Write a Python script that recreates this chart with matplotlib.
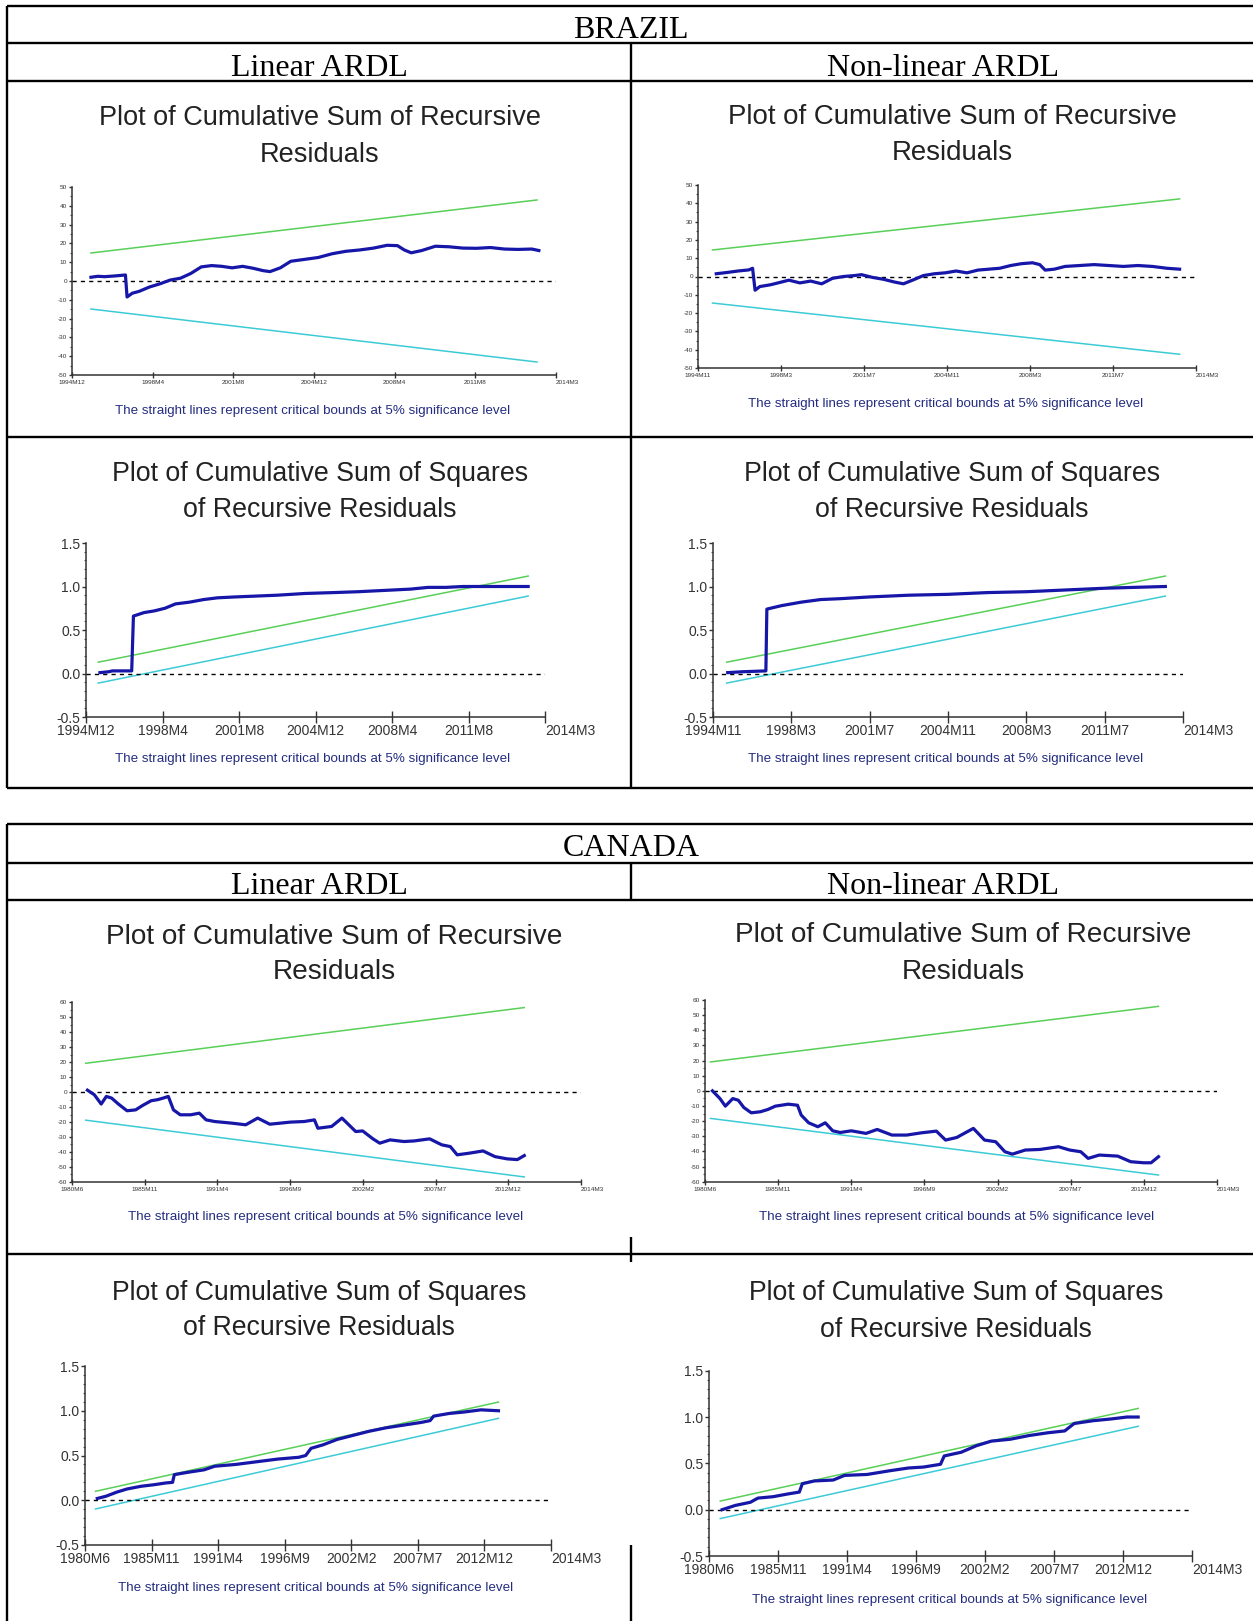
import numpy as np
import matplotlib.pyplot as plt
from matplotlib.ticker import MultipleLocator, FormatStrFormatter

plt.rcParams["font.family"] = "Liberation Sans"
plt.rcParams["axes.unicode_minus"] = False

W, H = 1253, 1621  # output size in pixels

# ---------------- data (x = position in the recursive sample, months) ----------------
brazil_lin_dates = ["1994M12", "1998M4", "2001M8", "2004M12", "2008M4", "2011M8", "2014M3"]
brazil_nl_dates = ["1994M11", "1998M3", "2001M7", "2004M11", "2008M3", "2011M7", "2014M3"]
canada_dates = ["1980M6", "1985M11", "1991M4", "1996M9", "2002M2", "2007M7", "2012M12", "2014M3"]

# Brazil, linear ARDL, CUSUM
br_lin_cusum_x = [9.4, 12.8, 16.2, 21.4, 26.5, 27.3, 29.9, 33.3, 38.4, 43.6, 48.7, 53.8, 58.9, 64.1,
                  69.2, 74.3, 79.4, 84.6, 89.7, 94.8, 98.2, 103.3, 108.5, 115.3, 122.1, 129.0, 135.8,
                  142.6, 149.5, 156.3, 161.4, 164.8, 168.2, 173.4, 180.2, 187.0, 193.8, 200.7, 207.5,
                  214.4, 221.2, 228.0, 231.5]
br_lin_cusum_y = [2.0, 2.5, 2.3, 2.7, 3.2, -8.5, -6.5, -5.5, -3.2, -1.5, 0.5, 1.5, 4.0, 7.5, 8.2,
                  7.8, 7.0, 7.8, 6.8, 5.5, 5.0, 7.0, 10.5, 11.5, 12.5, 14.5, 15.8, 16.5, 17.5, 19.0,
                  18.8, 16.5, 15.0, 16.2, 18.5, 18.2, 17.5, 17.4, 17.8, 17.0, 16.8, 17.0, 16.2]
br_lin_cusum_bx = [9.4, 230.6]
br_lin_cusum_up = [14.9, 43.1]
br_lin_cusum_lo = [-14.9, -43.1]

# Brazil, non-linear ARDL, CUSUM
br_nl_cusum_x = [8.8, 14.0, 19.3, 24.5, 26.3, 27.5, 29.8, 35.0, 40.3, 43.8, 49.1, 54.3, 59.6, 64.8,
                 70.1, 75.3, 78.8, 84.1, 89.3, 94.6, 99.0, 103.4, 108.6, 113.9, 119.1, 124.4, 129.6,
                 134.9, 140.1, 145.4, 150.7, 155.9, 161.2, 164.7, 167.3, 171.7, 176.9, 183.9, 190.9,
                 198.0, 205.0, 212.0, 219.0, 226.0, 232.1]
br_nl_cusum_y = [1.5, 2.2, 3.0, 3.6, 4.5, -7.5, -5.5, -4.5, -3.0, -2.0, -3.5, -2.5, -4.0, -1.0, 0.0,
                 0.5, 1.0, -0.5, -1.5, -3.0, -4.0, -2.0, 0.5, 1.5, 2.0, 3.0, 2.0, 3.5, 4.0, 4.5, 6.0,
                 7.0, 7.5, 6.5, 3.5, 4.0, 5.5, 6.0, 6.5, 6.0, 5.5, 6.0, 5.5, 4.5, 4.0]
br_nl_cusum_bx = [7.0, 232.1]
br_nl_cusum_up = [14.5, 42.4]
br_nl_cusum_lo = [-14.5, -42.5]

# Brazil, linear ARDL, CUSUM of squares
br_lin_sq_x = [7.3, 11.9, 13.8, 23.9, 24.8, 30.3, 35.8, 41.3, 46.8, 54.1, 61.5, 68.8, 78.0, 89.0,
               100.0, 114.7, 129.4, 142.2, 151.4, 160.6, 169.7, 178.9, 188.1, 197.2, 206.4, 215.6, 231.2]
br_lin_sq_y = [0.01, 0.02, 0.03, 0.03, 0.66, 0.70, 0.72, 0.75, 0.80, 0.82, 0.85, 0.87, 0.88, 0.89,
               0.90, 0.92, 0.93, 0.94, 0.95, 0.96, 0.97, 0.99, 0.99, 1.00, 1.00, 1.00, 1.00]
br_lin_sq_bx = [6.4, 231.2]
br_lin_sq_up = [0.13, 1.12]
br_lin_sq_lo = [-0.11, 0.89]

# Brazil, non-linear ARDL, CUSUM of squares
br_nl_sq_x = [7.5, 15.0, 27.0, 27.5, 35.0, 45.0, 55.0, 65.0, 80.0, 100.0, 120.0, 140.0, 160.0,
              180.0, 200.0, 215.0, 231.0]
br_nl_sq_y = [0.01, 0.02, 0.03, 0.74, 0.78, 0.82, 0.85, 0.86, 0.88, 0.90, 0.91, 0.93, 0.94, 0.96,
              0.98, 0.99, 1.00]
br_nl_sq_bx = [7.0, 231.0]
br_nl_sq_up = [0.13, 1.12]
br_nl_sq_lo = [-0.11, 0.89]

# Canada, linear ARDL, CUSUM
ca_lin_cusum_x = [13.8, 20.0, 26.1, 30.7, 35.4, 41.5, 49.2, 56.9, 63.0, 70.7, 76.9, 81.5, 86.1, 90.7,
                  96.8, 106.1, 113.8, 119.9, 127.6, 143.0, 155.3, 166.0, 176.8, 195.2, 207.5, 216.7,
                  219.8, 232.1, 241.3, 253.6, 259.8, 269.0, 275.1, 284.4, 296.7, 305.9, 319.7, 330.5,
                  338.2, 344.3, 355.1, 367.4, 378.1, 388.9, 398.1, 404.3]
ca_lin_cusum_y = [1.3, -1.8, -8.0, -2.9, -4.0, -8.0, -12.5, -11.9, -9.0, -5.8, -5.0, -4.0, -2.9,
                  -11.9, -15.2, -15.2, -14.1, -18.6, -19.7, -20.8, -21.9, -17.4, -21.5, -20.1, -19.7,
                  -18.6, -24.2, -23.0, -17.4, -26.4, -26.0, -31.3, -34.2, -32.0, -33.1, -32.7, -31.3,
                  -35.3, -36.5, -42.0, -40.9, -39.4, -43.2, -44.7, -45.2, -42.5]
ca_lin_cusum_bx = [12.3, 404.3]
ca_lin_cusum_up = [19.3, 56.6]
ca_lin_cusum_lo = [-18.8, -56.8]

# Canada, non-linear ARDL, CUSUM
ca_nl_cusum_x = [6.6, 13.2, 18.1, 24.7, 29.6, 34.5, 41.1, 49.3, 55.9, 62.5, 74.0, 82.2, 85.5, 92.1,
                 100.3, 106.9, 113.5, 120.1, 130.0, 143.1, 153.0, 166.1, 179.3, 192.5, 205.6, 213.8,
                 223.7, 230.3, 238.5, 248.4, 258.3, 266.5, 273.1, 284.6, 297.7, 314.2, 324.1, 333.9,
                 340.5, 350.4, 366.8, 378.3, 389.9, 396.4, 403.0]
ca_nl_cusum_y = [0.0, -5.0, -10.1, -5.1, -6.2, -11.0, -14.5, -13.8, -12.3, -10.1, -8.8, -9.5, -16.0,
                 -21.1, -23.7, -21.1, -26.4, -27.5, -26.4, -28.1, -25.5, -29.2, -29.2, -27.7, -26.6,
                 -32.5, -30.8, -28.1, -24.8, -32.5, -33.6, -40.2, -41.8, -39.1, -38.7, -36.9, -39.1,
                 -40.2, -44.6, -42.4, -43.1, -46.8, -47.5, -47.5, -43.5]
ca_nl_cusum_bx = [4.9, 403.0]
ca_nl_cusum_up = [19.1, 55.8]
ca_nl_cusum_lo = [-18.2, -55.6]

# Canada, linear ARDL, CUSUM of squares
ca_lin_sq_x = [12.0, 20.5, 30.8, 41.1, 54.7, 68.4, 78.7, 85.5, 87.2, 99.2, 116.3, 126.6, 147.1,
               167.6, 188.2, 208.7, 215.5, 220.7, 232.6, 246.3, 260.0, 277.1, 294.2, 311.3, 328.4,
               337.0, 340.4, 355.8, 369.5, 386.6, 403.7]
ca_lin_sq_y = [0.02, 0.045, 0.09, 0.126, 0.156, 0.175, 0.193, 0.20, 0.286, 0.31, 0.34, 0.38, 0.40,
               0.43, 0.46, 0.48, 0.50, 0.58, 0.62, 0.68, 0.72, 0.77, 0.81, 0.84, 0.87, 0.89, 0.94,
               0.97, 0.985, 1.01, 1.00]
ca_lin_sq_bx = [10.3, 403.7]
ca_lin_sq_up = [0.10, 1.097]
ca_lin_sq_lo = [-0.097, 0.915]

# Canada, non-linear ARDL, CUSUM of squares
ca_nl_sq_x = [12.4, 24.8, 39.0, 46.1, 60.3, 74.5, 85.1, 87.9, 99.3, 117.0, 127.7, 148.9, 170.2,
              188.0, 202.1, 218.1, 221.6, 237.6, 251.8, 266.0, 283.7, 301.4, 319.2, 335.1, 344.0,
              361.7, 379.5, 393.7, 404.3]
ca_nl_sq_y = [0.0, 0.046, 0.08, 0.125, 0.14, 0.17, 0.19, 0.28, 0.31, 0.32, 0.37, 0.38, 0.42, 0.45,
              0.46, 0.49, 0.58, 0.62, 0.69, 0.74, 0.76, 0.80, 0.83, 0.85, 0.93, 0.96, 0.98, 1.00, 1.00]
ca_nl_sq_bx = [10.6, 404.3]
ca_nl_sq_up = [0.093, 1.093]
ca_nl_sq_lo = [-0.096, 0.90]

# ---------------- styling ----------------
BLUE = "#1616a8"
GREEN = "#58d058"
CYAN = "#3ccbd6"
NAVY = "#232c80"
CAPTION = "The straight lines represent critical bounds at 5% significance level"
CUSUM_TITLE = ["Plot of Cumulative Sum of Recursive", "Residuals"]
CUSUMSQ_TITLE = ["Plot of Cumulative Sum of Squares", "of Recursive Residuals"]

fig = plt.figure(figsize=(W / 100, H / 100), dpi=100)

# full-figure overlay in pixel coordinates for the table and the texts
ov = fig.add_axes([0, 0, 1, 1])
ov.set_xlim(0, W)
ov.set_ylim(H, 0)
ov.axis("off")


def rule(x0, x1, y0, y1, lw=1.7):
    ov.plot([x0, x1], [y0, y1], color="black", lw=lw, solid_capstyle="butt")


# Brazil table
for y in (6, 43, 81, 437, 788):
    rule(7, W, y, y)
rule(7, 7, 6, 788)
rule(631, 631, 43, 788)
# Canada table
for y in (824, 863, 900, 1254):
    rule(7, W, y, y)
rule(7, 7, 824, H)
rule(631, 631, 863, 900)
rule(631, 631, 1237, 1262)
rule(631, 631, 1545, H)

serif = dict(family="Liberation Serif", fontsize=23, ha="center", va="center")
ov.text(631, 30, "BRAZIL", **serif)
ov.text(319, 68, "Linear ARDL", **serif)
ov.text(943, 68, "Non-linear ARDL", **serif)
ov.text(631, 849, "CANADA", **serif)
ov.text(319, 887, "Linear ARDL", **serif)
ov.text(943, 887, "Non-linear ARDL", **serif)


def panel(box, ylim, ymaj, ymin, fmt, tsize, dates, step, x, y, bx, up, lo,
          title, tx, ty, tfs, cap):
    x0, x1, yt, yb = box
    ax = fig.add_axes([x0 / W, 1 - yb / H, (x1 - x0) / W, (yb - yt) / H])
    ax.patch.set_alpha(0)
    ax.set_xlim(0, step * (len(dates) - 1))
    ax.set_ylim(*ylim)
    ax.plot(bx, up, color=GREEN, lw=1.1)
    ax.plot(bx, lo, color=CYAN, lw=1.1)
    ax.axhline(0, color="black", lw=1.0, ls=(0, (3, 3)))
    ax.plot(x, y, color=BLUE, lw=2.3, solid_joinstyle="round")

    for s in ("top", "right"):
        ax.spines[s].set_visible(False)
    for s in ("left", "bottom"):
        ax.spines[s].set_color("#333333")
        ax.spines[s].set_linewidth(1.1)

    ax.set_xticks(np.arange(len(dates)) * step)
    ax.set_xticklabels(dates)
    ax.get_xticklabels()[-1].set_ha("left")
    ax.yaxis.set_major_locator(MultipleLocator(ymaj))
    ax.yaxis.set_minor_locator(MultipleLocator(ymin))
    ax.yaxis.set_major_formatter(FormatStrFormatter(fmt))
    big = tsize > 6
    ax.tick_params(axis="x", direction="inout", length=8 if big else 5, width=1,
                   color="#333333", labelsize=tsize, labelcolor="#333333", pad=1)
    ax.tick_params(axis="y", which="major", direction="out", length=3 if big else 2.5,
                   width=1, color="#333333", labelsize=tsize, labelcolor="#333333", pad=1)
    ax.tick_params(axis="y", which="minor", direction="out", length=1.8, width=0.8,
                   color="#555555")

    for line, yy in zip(title, ty):
        ov.text(tx, yy + 3, line, fontsize=tfs, color="#222222", ha="center", va="center")
    ov.text(cap[0], cap[1] + 1, CAPTION, fontsize=9.6, color=NAVY, ha="center", va="center")


CU = dict(ylim=(-50, 50), ymaj=10, ymin=5, fmt="%d", tsize=4.6)
CUC = dict(ylim=(-60, 60), ymaj=10, ymin=5, fmt="%d", tsize=4.6)
SQ = dict(ylim=(-0.5, 1.5), ymaj=0.5, ymin=0.1, fmt="%.1f", tsize=10)

panel((72, 556, 187, 375), dates=brazil_lin_dates, step=40,
      x=br_lin_cusum_x, y=br_lin_cusum_y, bx=br_lin_cusum_bx, up=br_lin_cusum_up,
      lo=br_lin_cusum_lo, title=CUSUM_TITLE, tx=320, ty=(115, 152), tfs=19.5,
      cap=(313, 410), **CU)
panel((698, 1196, 185, 368), dates=brazil_nl_dates, step=40,
      x=br_nl_cusum_x, y=br_nl_cusum_y, bx=br_nl_cusum_bx, up=br_nl_cusum_up,
      lo=br_nl_cusum_lo, title=CUSUM_TITLE, tx=952, ty=(114, 150), tfs=19.9,
      cap=(946, 403), **CU)
panel((86, 545, 543, 717), dates=brazil_lin_dates, step=40,
      x=br_lin_sq_x, y=br_lin_sq_y, bx=br_lin_sq_bx, up=br_lin_sq_up, lo=br_lin_sq_lo,
      title=CUSUMSQ_TITLE, tx=320, ty=(471, 507), tfs=19.3, cap=(313, 758), **SQ)
panel((713, 1183, 543, 717), dates=brazil_nl_dates, step=40,
      x=br_nl_sq_x, y=br_nl_sq_y, bx=br_nl_sq_bx, up=br_nl_sq_up, lo=br_nl_sq_lo,
      title=CUSUMSQ_TITLE, tx=952, ty=(471, 507), tfs=19.3, cap=(946, 758), **SQ)
panel((72, 581, 1002.5, 1181.7), dates=canada_dates, step=65,
      x=ca_lin_cusum_x, y=ca_lin_cusum_y, bx=ca_lin_cusum_bx, up=ca_lin_cusum_up,
      lo=ca_lin_cusum_lo, title=CUSUM_TITLE, tx=334, ty=(934, 969), tfs=20.2,
      cap=(326, 1216), **CUC)
panel((705, 1217, 1000, 1181.7), dates=canada_dates, step=65,
      x=ca_nl_cusum_x, y=ca_nl_cusum_y, bx=ca_nl_cusum_bx, up=ca_nl_cusum_up,
      lo=ca_nl_cusum_lo, title=CUSUM_TITLE, tx=963, ty=(932, 969), tfs=20.2,
      cap=(957, 1216), **CUC)
panel((85, 551, 1366, 1545), dates=canada_dates, step=65,
      x=ca_lin_sq_x, y=ca_lin_sq_y, bx=ca_lin_sq_bx, up=ca_lin_sq_up, lo=ca_lin_sq_lo,
      title=CUSUMSQ_TITLE, tx=319, ty=(1290, 1325), tfs=19.2, cap=(316, 1587), **SQ)
panel((709, 1192, 1370.7, 1556), dates=canada_dates, step=65,
      x=ca_nl_sq_x, y=ca_nl_sq_y, bx=ca_nl_sq_bx, up=ca_nl_sq_up, lo=ca_nl_sq_lo,
      title=CUSUMSQ_TITLE, tx=956, ty=(1290, 1327), tfs=19.2, cap=(950, 1599), **SQ)

fig.savefig("out.png", dpi=100)
